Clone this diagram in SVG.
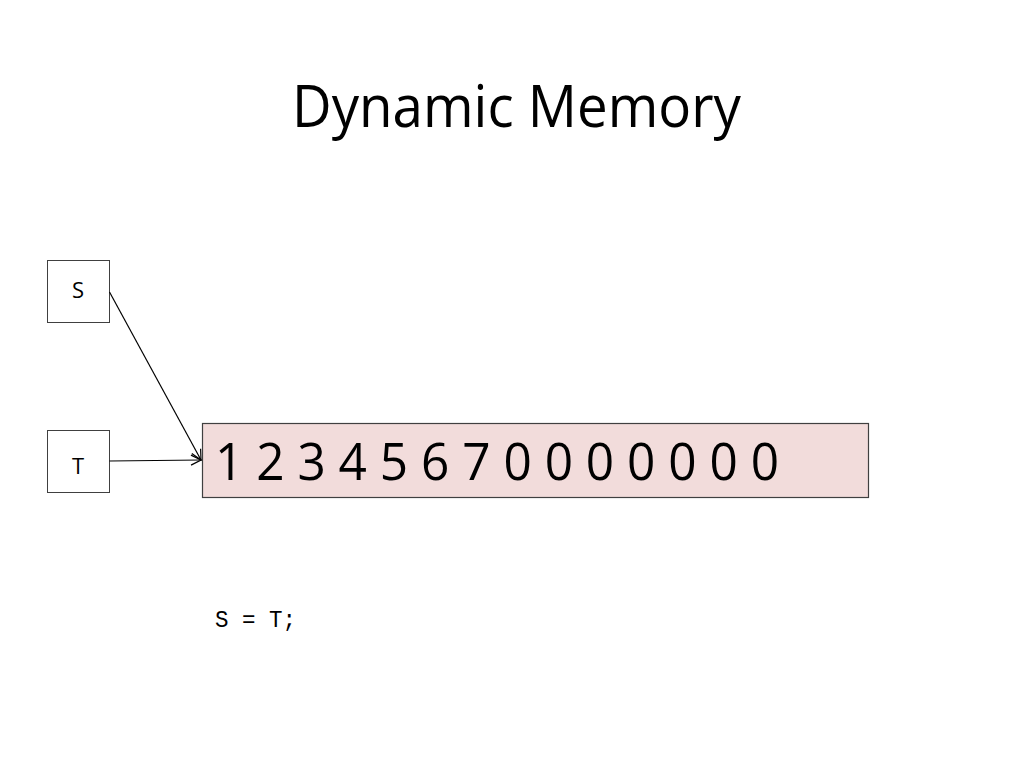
<svg xmlns="http://www.w3.org/2000/svg" width="1024" height="768" viewBox="0 0 1024 768">
<style>
.box{fill:#fff;stroke:#404040;stroke-width:1}
.lbl{font-family:"Open Sans","Liberation Sans",sans-serif;font-size:22px;fill:#000;text-anchor:middle}
.conn{stroke:#000;stroke-width:1.2;fill:none}
</style>
<defs>
<marker id="arr" viewBox="0 0 12 12" refX="11" refY="6" markerWidth="12" markerHeight="12" markerUnits="userSpaceOnUse" orient="auto">
<path d="M1,1 L11,6 L1,11" fill="none" stroke="#000" stroke-width="1.2"/>
</marker>
</defs>
<rect width="1024" height="768" fill="#fff"/>
<text x="292" y="127" font-family="Open Sans, Liberation Sans, sans-serif" font-size="58" fill="#000" textLength="449" lengthAdjust="spacingAndGlyphs">Dynamic Memory</text>
<g id="node-S">
<rect class="box" x="47.500" y="260.500" width="62" height="62"/>
<text class="lbl" x="78" y="298">S</text>
</g>
<g id="node-T">
<rect class="box" x="47.500" y="430.500" width="62" height="62"/>
<text class="lbl" x="78" y="474">T</text>
</g>
<g id="node-mem">
<rect x="202.500" y="423.500" width="666" height="74" fill="#f2dcdb" stroke="#404040" stroke-width="1.2"/>
<text x="215" y="480" font-family="Open Sans, Liberation Sans, sans-serif" font-size="51" fill="#000" textLength="564" lengthAdjust="spacingAndGlyphs">1 2 3 4 5 6 7 0 0 0 0 0 0 0</text>
</g>
<g id="connectors">
<line class="conn" x1="109.500" y1="292" x2="201" y2="460" marker-end="url(#arr)"/>
<line class="conn" x1="109.500" y1="461" x2="201" y2="460" marker-end="url(#arr)"/>
</g>
<text x="215" y="627" font-family="Liberation Mono, DejaVu Sans Mono, monospace" font-size="24" fill="#000" textLength="81" lengthAdjust="spacingAndGlyphs">S = T;</text>
</svg>
